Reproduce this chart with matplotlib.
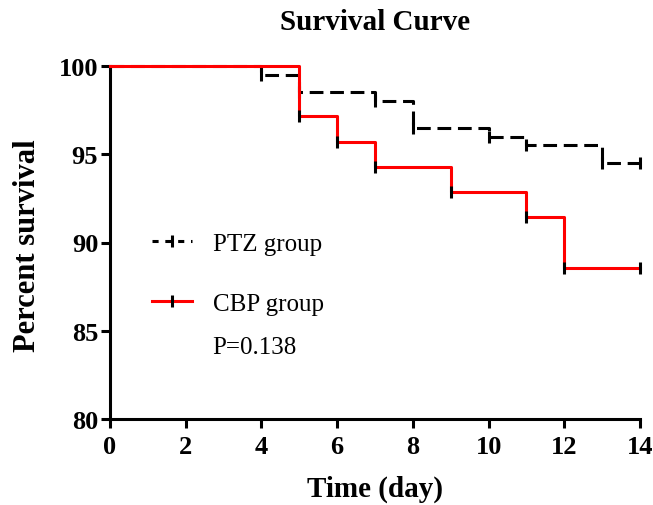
import matplotlib
matplotlib.use("Agg")
import matplotlib.pyplot as plt
from matplotlib.lines import Line2D

# data
ptz_days = [0, 4, 5, 7, 8, 10, 11, 13, 14]
ptz_surv = [100, 99.5, 98.5, 98.0, 96.5, 96.0, 95.5, 94.5, 94.5]
cbp_days = [0, 5, 6, 7, 9, 11, 12, 14]
cbp_surv = [100, 97.14, 95.71, 94.29, 92.86, 91.43, 88.57, 88.57]
labels = ["PTZ group", "CBP group"]
p_text = "P=0.138"
xticks = [0, 2, 4, 6, 8, 10, 12, 14]
yticks = [80, 85, 90, 95, 100]

plt.rcParams["font.family"] = ["Liberation Serif", "DejaVu Serif"]

fig = plt.figure(figsize=(6.53, 5.06), dpi=100)
ax = fig.add_axes([110/653, 1-420/506, 530/653, 353/506])

ax.step(ptz_days, ptz_surv, where="post", color="black", lw=2.2,
        dashes=(4.5, 2.2), clip_on=False, zorder=3)
ax.plot(ptz_days[1:], ptz_surv[1:], ls="none", marker="|", color="black",
        ms=9, mew=2.2, clip_on=False, zorder=3)
ax.step(cbp_days, cbp_surv, where="post", color="red", lw=2.2,
        clip_on=False, zorder=4)
ax.plot(cbp_days[1:], cbp_surv[1:], ls="none", marker="|", color="black",
        ms=9, mew=2.2, clip_on=False, zorder=5)

ax.set_xlim(0, 14)
ax.set_ylim(80, 100)
ax.set_xticks(xticks)
ax.set_yticks(yticks)
for s in ["top", "right"]:
    ax.spines[s].set_visible(False)
for s in ["left", "bottom"]:
    ax.spines[s].set_linewidth(2.2)
ax.tick_params(width=2.2, length=6.5, labelsize=19)
ax.tick_params(axis="x", pad=5)
ax.tick_params(axis="y", pad=2)
for t in ax.get_xticklabels() + ax.get_yticklabels():
    t.set_fontweight("bold")

ax.set_title("Survival Curve", fontsize=21, fontweight="bold", pad=27)
ax.set_xlabel("Time (day)", fontsize=21, fontweight="bold")
ax.set_ylabel("Percent survival", fontsize=22, fontweight="bold")
ax.xaxis.set_label_coords(0.5, -0.158)
ax.yaxis.set_label_coords(-0.128, 0.493)

handles = [
    Line2D([], [], color="black", lw=2.2, dashes=(2.0, 2.2), marker="|",
           ms=9, mew=2.2),
    Line2D([], [], color="red", lw=2.2, marker="|", mec="black", ms=9, mew=2.2),
]
ax.legend(handles, labels, loc="upper left", bbox_to_anchor=(0.036, 0.592),
          frameon=False, fontsize=18, handlelength=1.6, handletextpad=0.84,
          labelspacing=1.5, numpoints=1)
ax.text(0.1925, 0.204, p_text, transform=ax.transAxes, fontsize=18,
        ha="left", va="center")

fig.savefig("out.png", dpi=100)
